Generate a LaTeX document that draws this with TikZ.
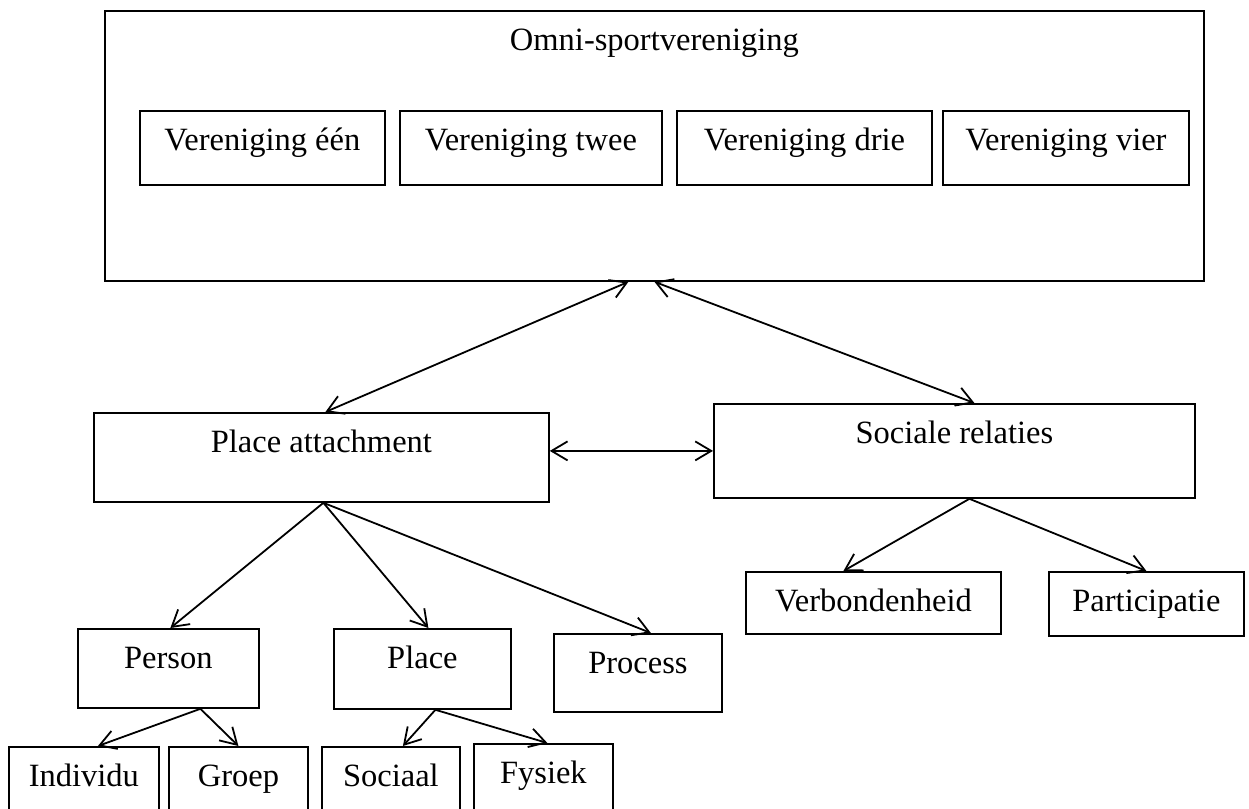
\documentclass[tikz,border=0pt]{standalone}
\usepackage{fontspec}
\setmainfont{Liberation Serif}
\usetikzlibrary{arrows.meta}

\begin{document}
\begin{tikzpicture}[x=1pt,y=-1pt,line width=1.8pt,>={Straight Barb[length=16pt,width=19pt]},
	box/.style={draw,anchor=north west,inner sep=0pt,text height=40pt,font=\fontsize{32.5pt}{36pt}\selectfont}]
	\useasboundingbox (0,0) rectangle (1249,808);
	
	\node[box,minimum width=1099pt,text depth=230pt] at (104,10) (omni) {Omni-sportvereniging};
	\node[box,minimum width=245pt,text depth=34pt] at (139,110) (een) {Vereniging één};
	\node[box,minimum width=262pt,text depth=34pt] at (399,110) (twee) {Vereniging twee};
	\node[box,minimum width=255pt,text depth=34pt] at (676,110) (drie) {Vereniging drie};
	\node[box,minimum width=246pt,text depth=34pt] at (942,110) (vier) {Vereniging vier};
	
	\node[box,minimum width=455pt,text depth=49pt] at (93,412) (pa) {Place attachment};
	\node[box,minimum width=481pt,text depth=54pt] at (713,403) (sr) {Sociale relaties};
	
	\node[box,minimum width=181pt,text depth=39pt] at (77,628) (person) {Person};
	\node[box,minimum width=177pt,text depth=40pt] at (333,628) (place) {Place};
	\node[box,minimum width=168pt,text depth=38pt] at (553,633) (process) {Process};
	\node[box,minimum width=255pt,text depth=22pt] at (745,571) (verb) {Verbondenheid};
	\node[box,minimum width=195pt,text depth=24pt] at (1048,571) (part) {Participatie};
	
	\node[box,minimum width=150pt,text depth=60pt] at (8,746) (individu) {Individu};
	\node[box,minimum width=139pt,text depth=60pt] at (168,746) (groep) {Groep};
	\node[box,minimum width=138pt,text depth=60pt] at (321,746) (sociaal) {Sociaal};
	\node[box,minimum width=139pt,text depth=60pt] at (473,743) (fysiek) {Fysiek};
	
	\draw[<->] ([xshift=-26pt]omni.south) -- ([xshift=4pt]pa.north);
	\draw[<->] (omni.south) -- ([xshift=20pt]sr.north);
	\draw[<->] (pa.east |- sr.west) -- (sr.west);
	
	\foreach \to/\dx in {person/2,place/6,process/13}{
		\draw[->] ([xshift=2pt]pa.south) -- ([xshift=\dx pt]\to.north);
	}
	\draw[->] ([xshift=32pt]person.south) -- ([xshift=14pt]individu.north);
	\draw[->] ([xshift=32pt]person.south) -- (groep.north);
	\draw[->] ([xshift=13pt]place.south) -- ([xshift=12pt]sociaal.north);
	\draw[->] ([xshift=13pt]place.south) -- ([xshift=4pt]fysiek.north);
	\draw[->] ([xshift=15pt]sr.south) -- ([xshift=-30pt]verb.north);
	\draw[->] ([xshift=15pt]sr.south) -- (part.north);
	
\end{tikzpicture}
\end{document}
